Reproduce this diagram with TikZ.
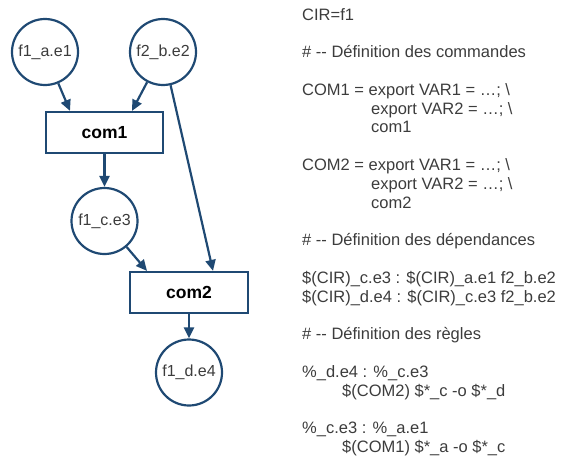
\documentclass[tikz,border=0pt]{standalone}
\usepackage{fontspec}
\usetikzlibrary{arrows.meta}
\newfontfamily\arialfont{Liberation Sans}
\definecolor{nodeblue}{RGB}{31,73,115}
\definecolor{labelgray}{RGB}{60,60,60}

\begin{document}
\begin{tikzpicture}[
    x=1pt, y=-1pt,
    filenode/.style={
      circle, draw=nodeblue, line width=2.2pt, minimum size=66pt,
      inner sep=0pt, text=labelgray,
      font=\arialfont\fontsize{16}{19}\selectfont
    },
    cmdbox/.style={
      draw=nodeblue, line width=2.2pt, minimum width=117pt,
      minimum height=41pt, inner sep=0pt,
      font=\arialfont\bfseries\fontsize{17.5}{20}\selectfont
    },
    codeline/.style={
      anchor=base west, inner sep=0pt, text=labelgray,
      font=\arialfont\fontsize{16.5}{19}\selectfont
    },
    arr/.style={-{Triangle[length=11pt, width=10pt]}, line width=2.2pt, nodeblue},
  ]
    \useasboundingbox (0,0) rectangle (561,458);

    \node[filenode] (fa) at (45,52) {f1\_a.e1};
    \node[filenode] (fb) at (163,52) {f2\_b.e2};
    \node[cmdbox] (com1) at (104.5,132.5) {com1};
    \node[filenode] (fc) at (104.5,221) {f1\_c.e3};
    \node[cmdbox, minimum width=118pt] (com2) at (189,292.5) {com2};
    \node[filenode] (fd) at (189,372.5) {f1\_d.e4};

    \draw[arr] (fa) -- ([xshift=-34.5pt]com1.north);
    \draw[arr] (fb) -- ([xshift=27.5pt]com1.north);
    \draw[arr] (fb) -- ([xshift=24pt]com2.north);
    \draw[arr] (com1) -- (fc);
    \draw[arr] (fc) -- ([xshift=-42pt]com2.north);
    \draw[arr] (com2) -- (fd);

    % makefile listing, one line every 18.8pt
    \foreach \k/\xpos/\txt [count=\i] in {
        0/302/{CIR=f1},
        2/302/{\# -{}- Définition des commandes},
        4/302/{COM1 = export VAR1 = \ldots; \textbackslash},
        5/371/{export VAR2 = \ldots; \textbackslash},
        6/371/{com1},
        8/302/{COM2 = export VAR1 = \ldots; \textbackslash},
        9/371/{export VAR2 = \ldots; \textbackslash},
        10/371/{com2},
        12/302/{\# -{}- Définition des dépendances},
        14/302/{\$(CIR)\_c.e3 : \$(CIR)\_a.e1 f2\_b.e2},
        15/302/{\$(CIR)\_d.e4 : \$(CIR)\_c.e3 f2\_b.e2},
        17/302/{\# -{}- Définition des règles},
        19/302/{\%\_d.e4 : \%\_c.e3},
        20/342/{\$(COM2) \$*\_c -o \$*\_d},
        22/302/{\%\_c.e3 : \%\_a.e1},
        23/342/{\$(COM1) \$*\_a -o \$*\_c}}
      \node[codeline] (line\i) at (\xpos, 20+\k*18.8) {\txt};
\end{tikzpicture}
\end{document}
